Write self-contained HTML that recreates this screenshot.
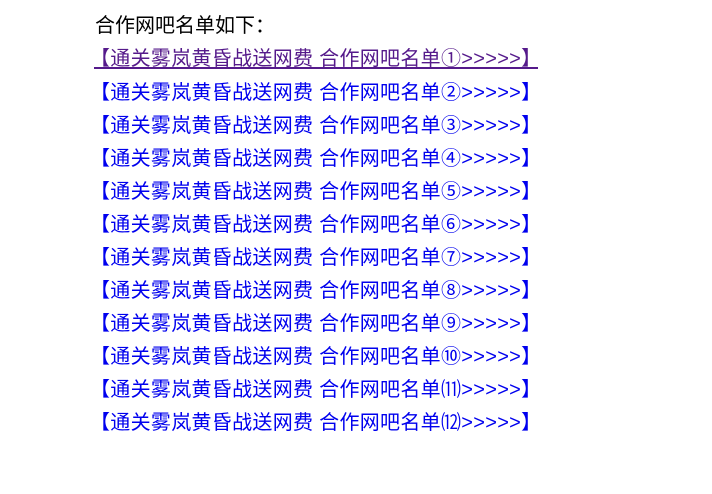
<!DOCTYPE html>
<html><head><meta charset="utf-8"><style>
html,body{margin:0;padding:0;background:#fff;width:712px;height:494px;overflow:hidden}
body{font-family:"Liberation Sans","Noto Sans CJK SC",sans-serif;font-size:20px}
.l{position:absolute;left:90px;white-space:nowrap;color:#0000ee;line-height:24px;letter-spacing:0.3px}
.h{position:absolute;left:95px;top:14px;color:#000;line-height:24px}
.u{position:absolute;left:94px;top:67px;width:444px;height:2px;background:#551a8b}
</style></head><body>
<div class="h">合作网吧名单如下：</div>
<div class="l" style="top:47px;color:#551a8b">【通关雾岚黄昏战送网费 合作网吧名单①&gt;&gt;&gt;&gt;&gt;】</div>
<div class="u"></div>
<div class="l" style="top:81px">【通关雾岚黄昏战送网费 合作网吧名单②&gt;&gt;&gt;&gt;&gt;】</div>
<div class="l" style="top:114px">【通关雾岚黄昏战送网费 合作网吧名单③&gt;&gt;&gt;&gt;&gt;】</div>
<div class="l" style="top:147px">【通关雾岚黄昏战送网费 合作网吧名单④&gt;&gt;&gt;&gt;&gt;】</div>
<div class="l" style="top:180px">【通关雾岚黄昏战送网费 合作网吧名单⑤&gt;&gt;&gt;&gt;&gt;】</div>
<div class="l" style="top:213px">【通关雾岚黄昏战送网费 合作网吧名单⑥&gt;&gt;&gt;&gt;&gt;】</div>
<div class="l" style="top:246px">【通关雾岚黄昏战送网费 合作网吧名单⑦&gt;&gt;&gt;&gt;&gt;】</div>
<div class="l" style="top:279px">【通关雾岚黄昏战送网费 合作网吧名单⑧&gt;&gt;&gt;&gt;&gt;】</div>
<div class="l" style="top:312px">【通关雾岚黄昏战送网费 合作网吧名单⑨&gt;&gt;&gt;&gt;&gt;】</div>
<div class="l" style="top:345px">【通关雾岚黄昏战送网费 合作网吧名单⑩&gt;&gt;&gt;&gt;&gt;】</div>
<div class="l" style="top:378px">【通关雾岚黄昏战送网费 合作网吧名单⑾&gt;&gt;&gt;&gt;&gt;】</div>
<div class="l" style="top:411px">【通关雾岚黄昏战送网费 合作网吧名单⑿&gt;&gt;&gt;&gt;&gt;】</div>
</body></html>
